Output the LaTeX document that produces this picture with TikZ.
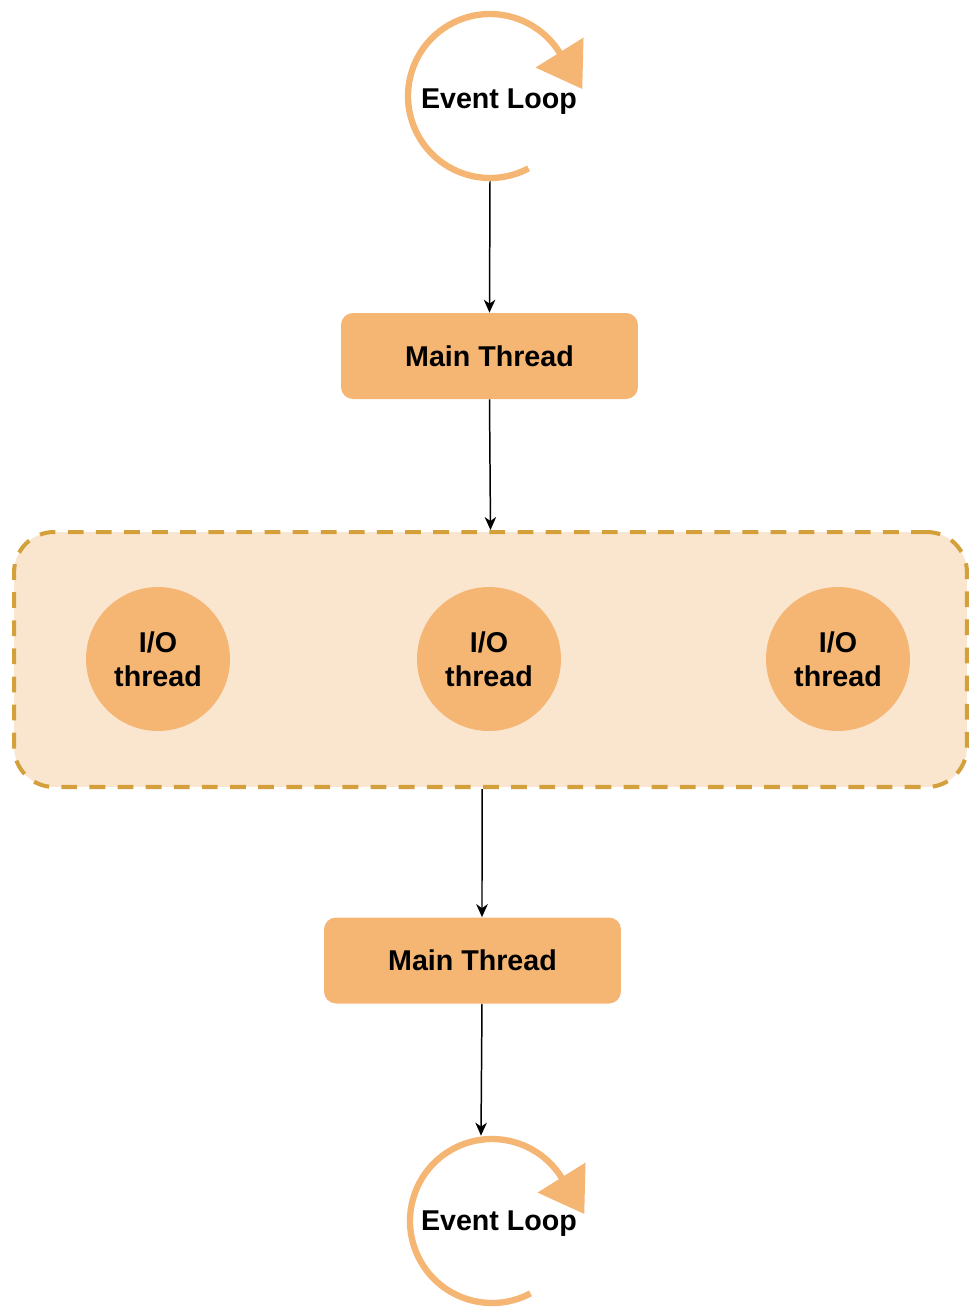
\documentclass[tikz,border=0pt]{standalone}
\usepackage{fontspec}
\setmainfont{Liberation Sans}
\usetikzlibrary{arrows.meta}
\definecolor{threadfill}{RGB}{245,181,115}
\definecolor{poolfill}{RGB}{250,229,207}
\definecolor{poolline}{RGB}{212,160,60}
\begin{document}
\begin{tikzpicture}[x=0.02cm,y=0.02cm,
		every node/.style={font=\fontsize{16.3}{19.3}\selectfont\bfseries},
		mainbox/.style={rectangle,rounded corners=0.24cm,fill=threadfill,minimum width=5.94cm,minimum height=1.72cm},
		iothread/.style={circle,fill=threadfill,minimum size=2.88cm,inner sep=0pt,align=center},
		iopool/.style={rectangle,rounded corners=0.8cm,fill=poolfill,draw=poolline,line width=2.3pt,dash pattern=on 9pt off 7pt,minimum width=19.06cm,minimum height=5.1cm},
		loopring/.style={circle,minimum size=3.4cm,inner sep=0pt},
		loopline/.style={draw=threadfill,line width=3.6pt,-{Triangle[length=0.86cm,width=1.1cm]}},
		flow/.style={line width=0.85pt,-{Stealth[length=0.26cm,width=0.23cm,inset=0.08cm]}}]
				\useasboundingbox (0,0) rectangle (980,-1316);
				\node[loopring] (loop1) at (490,-96) {};
				\node[loopring] (loop2) at (492,-1221) {};
				\foreach \l in {loop1,loop2}
					\draw[loopline] (\l.center) ++(-62:1.64cm) arc[start angle=-62,end angle=-328,radius=1.64cm] -- ++(-58:0.86cm);
				\node (looptext1) at (499,-102) {Event Loop};
				\node (looptext2) at (499,-1224) {Event Loop};
				\node[mainbox] (main1) at (489.5,-356) {\raisebox{-1pt}{Main Thread}};
				\node[iopool] (pool) at (490.5,-659.5) {};
				\node[iothread] (io1) at (158,-659) {I/O\\thread};
				\node[iothread] (io2) at (489,-659) {I/O\\thread};
				\node[iothread] (io3) at (838,-659) {I/O\\thread};
				\node[mainbox] (main2) at (472.5,-960.5) {\raisebox{-1pt}{Main Thread}};
				\draw[flow] (loop1.south) -- (main1.north);
				\draw[flow] (main1.south) -- (pool.north);
				\draw[flow] ([xshift=-0.17cm]pool.south) -- ([xshift=0.19cm]main2.north);
				\draw[flow] ([xshift=0.19cm]main2.south) -- ([xshift=-0.22cm]loop2.north);
			\end{tikzpicture}
\end{document}
